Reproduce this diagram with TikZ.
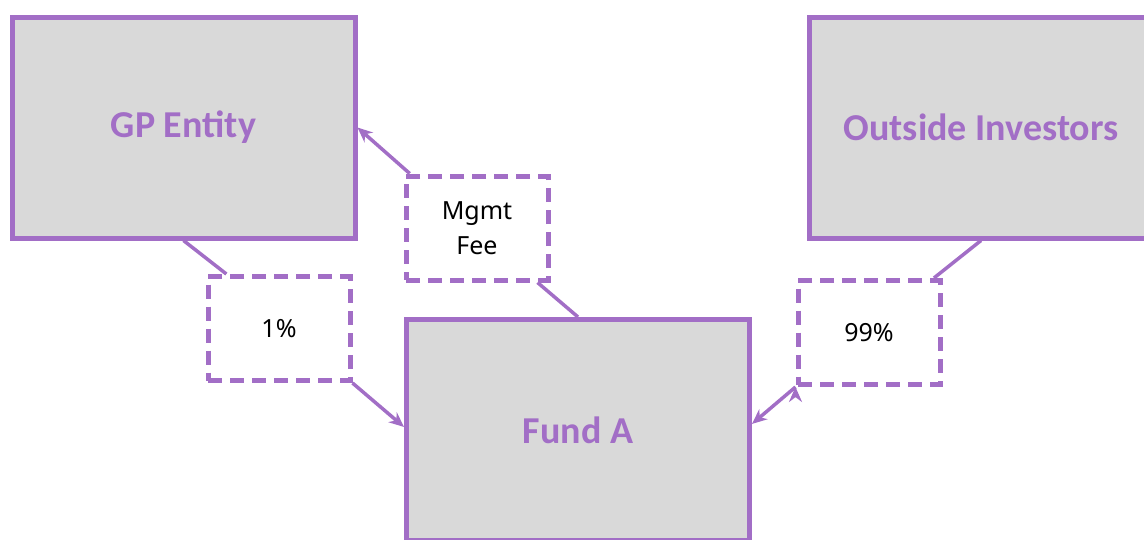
\documentclass[tikz,border=0pt]{standalone}
\usepackage{fontspec}
\setmainfont{Noto Sans}
\newfontfamily\titlefont{Carlito}
\usetikzlibrary{arrows.meta}
\definecolor{lavender}{RGB}{162,110,198}
\definecolor{boxgray}{RGB}{217,217,217}

\begin{document}
\begin{tikzpicture}[x=1pt,y=-1pt,>={Stealth[length=15pt,width=13pt]},
  entity/.style={draw=lavender,line width=5pt,fill=boxgray,minimum width=343pt,
    minimum height=221pt,inner sep=0pt,text=lavender,
    font=\titlefont\bfseries\fontsize{38}{45}\selectfont},
  share/.style={draw=lavender,line width=5pt,dash pattern=on 14pt off 8pt,
    fill=white,minimum width=142pt,minimum height=104pt,inner sep=0pt,
    align=center,font=\fontsize{25}{35}\selectfont},
  link/.style={draw=lavender,line width=3.5pt}]
  \useasboundingbox (0,0) rectangle (1144,539);
  \path
  node[entity] (gp)   at (183.5,127.5) {GP Entity}
  node[entity] (oi)   at (981,127.5)   {Outside Investors}
  node[entity] (fund) at (578,430)     {Fund A}
  node[share]  (fee)  at (477,228)     {Mgmt\\Fee}
  node[share]  (p1)   at (279,328.5)   {1\%}
  node[share]  (p99)  at (869,332.5)   {99\%}
  ;
  \path[link]
  (gp.south)  edge (p1.134)
  (fund.north) edge (fee.-42)
  (oi.south)  edge (p99.40)
  ;
  \path[link,->]
  (p1.south east)  edge (fund.179)
  (fee.141)        edge (gp.east)
  (p99.south west) edge (fund.2)
  ;
\end{tikzpicture}
\end{document}
